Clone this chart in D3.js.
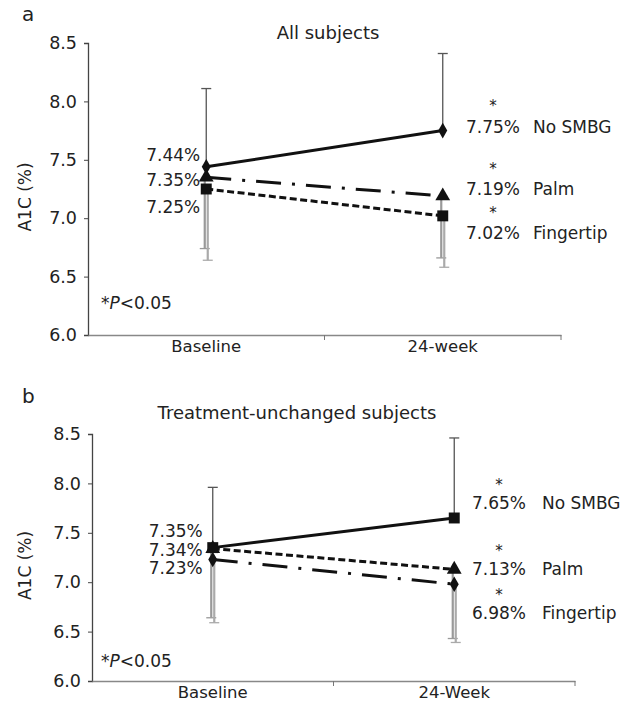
<!DOCTYPE html>
<html><head><meta charset="utf-8">
<script src="https://cdn.jsdelivr.net/npm/d3@7"></script>
<style>body{margin:0;background:#fff}text{font-family:"DejaVu Sans",sans-serif;fill:#222}</style>
</head><body><svg id="c" width="639" height="710"></svg>
<script>
// ---- data ----
const categoriesA = ["Baseline", "24-week"];
const categoriesB = ["Baseline", "24-Week"];
const yTicks = [6.0, 6.5, 7.0, 7.5, 8.0, 8.5];
const seriesNames = ["No SMBG", "Palm", "Fingertip"];
// Panel a: All subjects
const noSmbgA = [7.44, 7.75];
const palmA = [7.35, 7.19];
const fingertipA = [7.25, 7.02];
const noSmbgUpperA = [8.11, 8.41];
const palmLowerA = [6.74, 6.66];
const fingertipLowerA = [6.64, 6.58];
// Panel b: Treatment-unchanged subjects
const noSmbgB = [7.35, 7.65];
const palmB = [7.34, 7.13];
const fingertipB = [7.23, 6.98];
const noSmbgUpperB = [7.96, 8.46];
const palmLowerB = [6.64, 6.43];
const fingertipLowerB = [6.59, 6.39];

const svg = d3.select("#c");

function panel(cfg) {
  const g = svg.append("g");
  const x = d3.scaleBand().domain(cfg.categories).range([cfg.x0, cfg.x1]);
  const y = d3.scaleLinear().domain([6.0, 8.5]).range([cfg.yb, cfg.yt]);
  const cx = c => x(c) + x.bandwidth() / 2;

  // panel letter + title
  g.append("text").attr("x", 22).attr("y", cfg.letterY).attr("font-size", 20).text(cfg.letter);
  g.append("text").attr("x", cfg.titleX).attr("y", cfg.titleY).attr("text-anchor", "middle")
    .attr("font-family", "Open Sans").attr("font-size", 18).text(cfg.title);

  // y axis
  const ya = g.append("g").attr("transform", `translate(${cfg.x0},0)`)
    .call(d3.axisLeft(y).tickValues(yTicks).tickFormat(d3.format(".1f")).tickSize(4).tickPadding(7));
  ya.select(".domain").attr("stroke", "#444").attr("stroke-width", 1.3);
  ya.selectAll(".tick line").attr("stroke", "#444");
  ya.selectAll(".tick text").attr("font-size", 17.5).attr("fill", "#222").attr("font-family", "DejaVu Sans");

  // x axis
  const xa = g.append("g").attr("transform", `translate(0,${cfg.yb})`)
    .call(d3.axisBottom(x).tickSize(0).tickPadding(5));
  xa.select(".domain").attr("stroke", "#888").attr("stroke-width", 1.5);
  xa.selectAll(".tick text").attr("font-size", 16.5).attr("fill", "#222").attr("font-family", "DejaVu Sans");
  // category boundary tick marks
  const bounds = [x.range()[0] + x.step(), x.range()[1]];
  g.selectAll(".bt").data(bounds).join("line")
    .attr("x1", d => d).attr("x2", d => d).attr("y1", cfg.yb).attr("y2", cfg.yb + 5)
    .attr("stroke", "#777").attr("stroke-width", 1);

  // y label
  g.append("text").attr("transform", `translate(${cfg.ylabX},${(cfg.yt + cfg.yb) / 2 + 8}) rotate(-90)`)
    .attr("text-anchor", "middle").attr("font-size", 17).text("A1C (%)");

  // p note
  const pn = g.append("text").attr("x", 101).attr("y", cfg.pY).attr("font-size", 17);
  pn.append("tspan").text("*");
  pn.append("tspan").attr("font-style", "italic").text("P");
  pn.append("tspan").text("<0.05");

  // error bars
  const capW = 5;
  function errBar(vals, ends, color, width, dx) {
    cfg.categories.forEach((c, i) => {
      const xx = cx(c) + dx;
      g.append("line").attr("x1", xx).attr("x2", xx).attr("y1", y(vals[i])).attr("y2", y(ends[i]))
        .attr("stroke", color).attr("stroke-width", width);
      g.append("line").attr("x1", xx - capW).attr("x2", xx + capW).attr("y1", y(ends[i])).attr("y2", y(ends[i]))
        .attr("stroke", color).attr("stroke-width", 1.3);
    });
  }
  errBar(cfg.series[0].v, cfg.upper, "#555", 1.3, 0);
  errBar(cfg.series[1].v, cfg.lower1, "#999", 2.2, -1.5);
  errBar(cfg.series[2].v, cfg.lower2, "#aaa", 2.2, 1.5);

  // lines
  const line = d3.line().x((d, i) => cx(cfg.categories[i])).y(d => y(d));
  cfg.series.forEach(s => {
    g.append("path").datum(s.v).attr("d", line).attr("fill", "none").attr("stroke", "#111")
      .attr("stroke-width", 3).attr("stroke-dasharray", s.dash);
  });
  // markers
  const shapes = { diamond: d3.symbolDiamond, square: d3.symbolSquare, triangle: d3.symbolTriangle };
  const sizes = { diamond: 70, square: 120, triangle: 95 };
  cfg.series.forEach(s => {
    g.selectAll(null).data(s.v).join("path")
      .attr("transform", (d, i) => `translate(${cx(cfg.categories[i])},${y(d)})`)
      .attr("d", d3.symbol().type(shapes[s.marker]).size(sizes[s.marker])).attr("fill", "#111");
  });

  // value labels, left (baseline) and right (24-week)
  cfg.series.forEach((s, k) => {
    g.append("text").attr("x", cx(cfg.categories[0]) - cfg.leftGap).attr("y", y(s.v[0]) + cfg.leftOff[k]).attr("dy", "0.35em")
      .attr("text-anchor", "end").attr("font-size", 17).text(d3.format(".2f")(s.v[0]) + "%");
    const ry = y(s.v[1]) + cfg.rightOff[k];
    g.append("text").attr("x", cfg.valX).attr("y", ry).attr("dy", "0.35em").attr("font-size", 17)
      .text(d3.format(".2f")(s.v[1]) + "%");
    g.append("text").attr("x", cfg.valX + 27).attr("y", ry - cfg.starGap).attr("dy", "0.52em")
      .attr("text-anchor", "middle").attr("font-size", 15).text("*");
    g.append("text").attr("x", cfg.nameX).attr("y", ry).attr("dy", "0.35em").attr("font-size", 17)
      .text(seriesNames[k]);
  });
}

panel({
  letter: "a", letterY: 21, title: "All subjects", titleX: 328, titleY: 39,
  categories: categoriesA, x0: 88, x1: 561, yb: 335, yt: 43, ylabX: 31, pY: 309,
  series: [
    { v: noSmbgA, dash: null, marker: "diamond" },
    { v: palmA, dash: "25,11,3,11", marker: "triangle" },
    { v: fingertipA, dash: "7,3.5", marker: "square" }
  ],
  upper: noSmbgUpperA, lower1: palmLowerA, lower2: fingertipLowerA, leftGap: 6,
  leftOff: [-12, 3, 18], rightOff: [-4, -7, 17], valX: 466, nameX: 533, starGap: 23
});
panel({
  letter: "b", letterY: 403, title: "Treatment-unchanged subjects", titleX: 297, titleY: 419,
  categories: categoriesB, x0: 92, x1: 575, yb: 681, yt: 434, ylabX: 31, pY: 667,
  series: [
    { v: noSmbgB, dash: null, marker: "square" },
    { v: palmB, dash: "7,3.5", marker: "triangle" },
    { v: fingertipB, dash: "25,11,3,11", marker: "diamond" }
  ],
  upper: noSmbgUpperB, lower1: palmLowerB, lower2: fingertipLowerB, leftGap: 10,
  leftOff: [-17, 1, 9], rightOff: [-15, 0, 29], valX: 472, nameX: 542, starGap: 21
});
</script></body></html>
